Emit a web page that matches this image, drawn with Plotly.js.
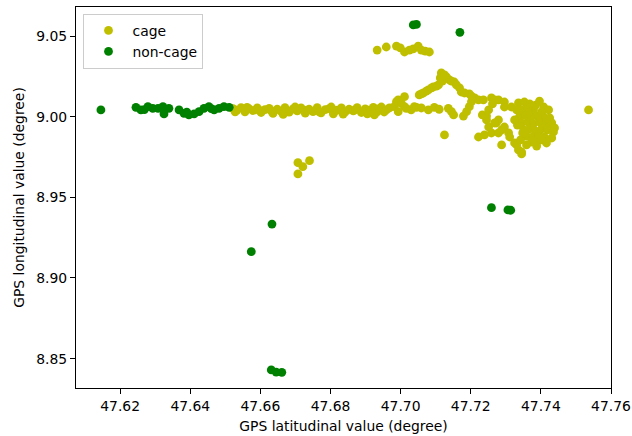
<!DOCTYPE html>
<html>
<head>
<meta charset="utf-8">
<script src="https://cdn.plot.ly/plotly-3.0.1.min.js"></script>
<style>html,body{margin:0;padding:0;background:#fff}#chart{width:632px;height:436px}</style>
</head>
<body>
<div id="chart"></div>
<script>
// Non-cage GPS points (latitude, longitude)
const nonCageLat = [47.6145, 47.6245, 47.6259, 47.6269, 47.6279, 47.6293, 47.6308, 47.6322, 47.6325, 47.6339,
  47.6368, 47.6382, 47.6390, 47.6396, 47.6411, 47.6425, 47.6439, 47.6453, 47.6460, 47.6468, 47.6482, 47.6496, 47.6511,
  47.6574, 47.6633, 47.6631, 47.6645, 47.6661,
  47.7036, 47.7045, 47.7169, 47.7259, 47.7306, 47.7314];
const nonCageLon = [9.0042, 9.0058, 9.0042, 9.0044, 9.0062, 9.0052, 9.0052, 9.0062, 9.0017, 9.0052,
  9.0042, 9.0021, 9.0028, 9.0011, 9.0017, 9.0031, 9.0052, 9.0062, 9.0050, 9.0042, 9.0052, 9.0062, 9.0058,
  8.9163, 8.9334, 8.8430, 8.8417, 8.8415,
  9.0569, 9.0572, 9.0523, 8.9436, 8.9422, 8.9420];

// Cage GPS points (latitude, longitude)
const cageLat = [
  47.6522, 47.6533, 47.6545, 47.6556, 47.6568, 47.6579, 47.6591, 47.6602, 47.6613, 47.6625,
  47.6636, 47.6648, 47.6659, 47.6670, 47.6682, 47.6693, 47.6705, 47.6716, 47.6728, 47.6739,
  47.6750, 47.6762, 47.6773, 47.6785, 47.6796, 47.6808, 47.6819, 47.6831, 47.6842, 47.6853,
  47.6865, 47.6876, 47.6888, 47.6899, 47.6910, 47.6922, 47.6933,
  47.6528, 47.6562, 47.6596, 47.6631, 47.6665, 47.6699, 47.6733, 47.6768, 47.6802, 47.6836,
  47.6871, 47.6905, 47.6939,
  47.6707, 47.6740, 47.6721, 47.6707,
  47.6959, 47.6968, 47.6982, 47.6988, 47.6993, 47.7002, 47.7011, 47.7011, 47.7016, 47.6993,
  47.7030, 47.7039, 47.7045, 47.7059, 47.7079, 47.7096, 47.7110, 47.7136, 47.7145, 47.7151,
  47.7179, 47.7188, 47.7196, 47.7202, 47.6945, 47.6953, 47.6925,
  47.6933, 47.6959, 47.6988, 47.6999, 47.7011, 47.7025, 47.7036, 47.7050, 47.7059, 47.7070, 47.7082,
  47.7053, 47.7065, 47.7079, 47.7093, 47.7108, 47.7119, 47.7116, 47.7131, 47.7139, 47.7153,
  47.7168, 47.7173, 47.7196, 47.7211, 47.7222, 47.7236, 47.7259, 47.7268, 47.7279, 47.7296,
  47.7296, 47.7316,
  47.7059, 47.7073, 47.7088, 47.7102, 47.7113, 47.7125, 47.7145, 47.7159, 47.7182, 47.7202,
  47.7125,
  47.7251, 47.7245, 47.7245, 47.7251, 47.7222, 47.7239, 47.7259, 47.7273, 47.7279, 47.7288,
  47.7296, 47.7308, 47.7311, 47.7288, 47.7325, 47.7331, 47.7336, 47.7345, 47.7345, 47.7268,
  47.7279, 47.7233, 47.7262,
  47.7336, 47.7353, 47.7368, 47.7345, 47.7362, 47.7379, 47.7408, 47.7422, 47.7339, 47.7356,
  47.7373, 47.7391, 47.7408, 47.7425, 47.7345, 47.7362, 47.7379, 47.7396, 47.7413, 47.7431,
  47.7351, 47.7368, 47.7385, 47.7402, 47.7419, 47.7436, 47.7359, 47.7376, 47.7393, 47.7410,
  47.7373, 47.7391, 47.7402, 47.7348, 47.7333, 47.7385, 47.7402, 47.7416, 47.7425, 47.7365,
  47.7342, 47.7359, 47.7388, 47.7416, 47.7431, 47.7439, 47.7331, 47.7325, 47.7396,
  47.7536];
const cageLon = [
  9.0050, 9.0040, 9.0056, 9.0030, 9.0048, 9.0038, 9.0054, 9.0026, 9.0044, 9.0052,
  9.0020, 9.0046, 9.0034, 9.0056, 9.0028, 9.0048, 9.0036, 9.0054, 9.0022, 9.0046,
  9.0032, 9.0056, 9.0024, 9.0044, 9.0050, 9.0018, 9.0040, 9.0054, 9.0030, 9.0046,
  9.0036, 9.0056, 9.0026, 9.0048, 9.0040, 9.0058, 9.0030,
  9.0030, 9.0058, 9.0040, 9.0036, 9.0014, 9.0060, 9.0040, 9.0030, 9.0060, 9.0016,
  9.0044, 9.0018, 9.0050,
  8.9715, 8.9727, 8.9690, 8.9645,
  9.0042, 9.0054, 9.0062, 9.0093, 9.0104, 9.0083, 9.0124, 9.0062, 9.0052, 9.0031,
  9.0042, 9.0062, 9.0058, 9.0054, 9.0042, 9.0058, 9.0046, 9.0052, 9.0031, 9.0011,
  9.0004, 9.0031, 9.0062, 9.0093, 9.0060, 9.0029, 9.0011,
  9.0413, 9.0432, 9.0438, 9.0426, 9.0401, 9.0413, 9.0420, 9.0438, 9.0413, 9.0407, 9.0401,
  9.0135, 9.0147, 9.0166, 9.0184, 9.0197, 9.0221, 9.0271, 9.0246, 9.0228, 9.0215,
  9.0178, 9.0153, 9.0141, 9.0116, 9.0104, 9.0104, 9.0116, 9.0104, 9.0104, 9.0091,
  9.0060, 9.0060,
  9.0141, 9.0159, 9.0178, 9.0190, 9.0240, 9.0259, 9.0221, 9.0197, 9.0147, 9.0128,
  8.9887,
  9.0042, 9.0004, 8.9980, 8.9936, 8.9874, 8.9887, 8.9899, 8.9961, 8.9980, 8.9918,
  8.9936, 8.9899, 8.9874, 8.9825, 8.9837, 8.9825, 8.9794, 8.9769, 8.9781, 8.9961,
  8.9899, 9.0011, 9.0079,
  9.0085, 9.0091, 9.0079, 9.0042, 9.0054, 9.0042, 9.0060, 9.0042, 9.0000, 9.0010,
  8.9998, 9.0004, 8.9998, 8.9992, 8.9961, 8.9967, 8.9955, 8.9967, 8.9955, 8.9961,
  8.9918, 8.9924, 8.9911, 8.9924, 8.9918, 8.9905, 8.9880, 8.9874, 8.9887, 8.9874,
  8.9843, 8.9849, 8.9856, 8.9899, 8.9948, 9.0072, 9.0029, 8.9980, 8.9936, 9.0023,
  8.9856, 8.9825, 8.9818, 8.9837, 8.9868, 8.9930, 9.0042, 8.9980, 9.0097,
  9.0042];

const seriesNames = ['cage', 'non-cage'];
const seriesColors = ['#bfbf00', '#008000'];

const xTicks = [47.62, 47.64, 47.66, 47.68, 47.70, 47.72, 47.74, 47.76];
const yTicks = [8.85, 8.90, 8.95, 9.00, 9.05];

const font = {family: 'DejaVu Sans, sans-serif', size: 13.9, color: '#000'};

const traces = [
  {x: cageLat, y: cageLon, name: seriesNames[0], type: 'scatter', mode: 'markers',
   marker: {color: seriesColors[0], size: 8.8, line: {width: 0}}},
  {x: nonCageLat, y: nonCageLon, name: seriesNames[1], type: 'scatter', mode: 'markers',
   marker: {color: seriesColors[1], size: 8.8, line: {width: 0}}}
];

const axisCommon = {
  showgrid: false, zeroline: false, showline: true, mirror: true,
  linecolor: '#000', linewidth: 1, ticks: 'outside', ticklen: 5, tickwidth: 1,
  tickcolor: '#000', tickfont: font, tickformat: '.2f', tickmode: 'array'
};

const layout = {
  width: 632, height: 436,
  margin: {l: 75.5, r: 21, t: 7, b: 48},
  paper_bgcolor: '#fff', plot_bgcolor: '#fff',
  font: font,
  showlegend: true,
  legend: {x: 0.014, y: 0.982, xanchor: 'left', yanchor: 'top',
    bgcolor: 'rgba(255,255,255,0.8)', bordercolor: '#cccccc', borderwidth: 1,
    font: font, tracegroupgap: 0, itemwidth: 38},
  xaxis: Object.assign({}, axisCommon, {
    range: [47.6074, 47.76], tickvals: xTicks,
    title: {text: 'GPS latitudinal value (degree)', font: font, standoff: 8}
  }),
  yaxis: Object.assign({}, axisCommon, {
    range: [8.8318, 9.068], tickvals: yTicks,
    title: {text: 'GPS longitudinal value (degree)', font: font, standoff: 8}
  })
};

Plotly.newPlot('chart', traces, layout, {staticPlot: true, displayModeBar: false});
</script>
</body>
</html>
